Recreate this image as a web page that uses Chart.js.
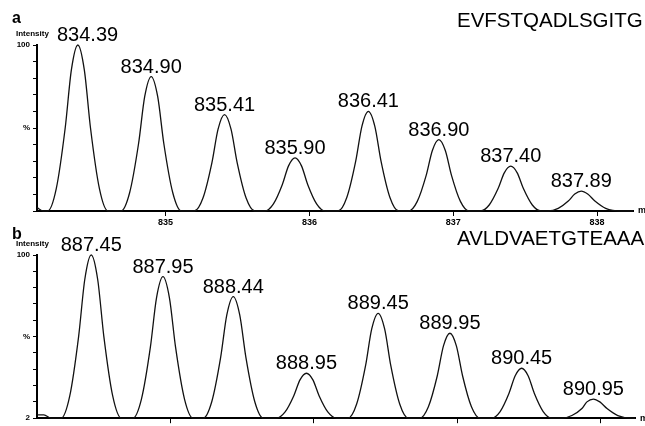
<!DOCTYPE html>
<html>
<head>
<meta charset="utf-8">
<script src="https://cdn.jsdelivr.net/npm/chart.js@4/dist/chart.umd.min.js"></script>
<style>
  html, body { margin: 0; padding: 0; background: #fff; overflow: hidden; }
  #wrap { position: relative; width: 645px; height: 426px; }
  canvas { position: absolute; left: 0; }
  #chartA { top: 0; }
  #chartB { top: 213px; }
</style>
</head>
<body>
<div id="wrap">
  <canvas id="chartA" width="645" height="232"></canvas>
  <canvas id="chartB" width="645" height="213"></canvas>
</div>
<script>
// panel a: EVFSTQADLSGITG isotope envelope
const seqA = 'EVFSTQADLSGITG';
const peakLabelsA = ['834.39', '834.90', '835.41', '835.90', '836.41', '836.90', '837.40', '837.89'];
const xTicksA = [835, 836, 837, 838];
const mzA = [
  834.106, 834.15,
  834.18, 834.24, 834.302, 834.345, 834.39, 834.435, 834.478, 834.54, 834.60,
  834.69, 834.75, 834.812, 834.855, 834.90, 834.945, 834.988, 835.05, 835.11,
  835.20, 835.26, 835.322, 835.365, 835.41, 835.455, 835.498, 835.56, 835.62,
  835.69, 835.75, 835.812, 835.855, 835.90, 835.945, 835.988, 836.05, 836.11,
  836.20, 836.26, 836.322, 836.365, 836.41, 836.455, 836.498, 836.56, 836.62,
  836.69, 836.75, 836.812, 836.855, 836.90, 836.945, 836.988, 837.05, 837.11,
  837.19, 837.25, 837.312, 837.355, 837.40, 837.445, 837.488, 837.55, 837.61,
  837.66, 837.73, 837.80, 837.845, 837.89, 837.935, 837.985, 838.06, 838.17,
  838.25
];
const intA = [
  2, 0,
  0, 13.5, 50, 85, 100, 85, 50, 13.5, 0,
  0, 11, 40.5, 69, 81, 69, 40.5, 11, 0,
  0, 7.8, 29, 49.3, 58, 49.3, 29, 7.8, 0,
  0, 4.3, 16, 27.2, 32, 27.2, 16, 4.3, 0,
  0, 8.1, 30, 51, 60, 51, 30, 8.1, 0,
  0, 5.8, 21.5, 36.5, 43, 36.5, 21.5, 5.8, 0,
  0, 3.6, 13.5, 23, 27, 23, 13.5, 3.6, 0,
  0, 1.6, 6, 10.2, 12, 10.2, 6, 1.6, 0,
  0
];

// panel b: AVLDVAETGTEAAA isotope envelope
const seqB = 'AVLDVAETGTEAAA';
const peakLabelsB = ['887.45', '887.95', '888.44', '888.95', '889.45', '889.95', '890.45', '890.95'];
const xTicksB = [888, 889, 890, 891];
const yTicksB = [2, 11.8, 21.6, 31.4, 41.2, 51, 60.8, 70.6, 80.4, 90.2, 100];
const mzB = [
  887.075, 887.12, 887.17,
  887.24, 887.30, 887.362, 887.405, 887.45, 887.495, 887.538, 887.60, 887.66,
  887.74, 887.80, 887.862, 887.905, 887.95, 887.995, 888.038, 888.10, 888.16,
  888.23, 888.29, 888.352, 888.395, 888.44, 888.485, 888.528, 888.59, 888.65,
  888.74, 888.80, 888.862, 888.905, 888.95, 888.995, 889.038, 889.10, 889.16,
  889.24, 889.30, 889.362, 889.405, 889.45, 889.495, 889.538, 889.60, 889.66,
  889.74, 889.80, 889.862, 889.905, 889.95, 889.995, 890.038, 890.10, 890.16,
  890.24, 890.30, 890.362, 890.405, 890.45, 890.495, 890.538, 890.60, 890.66,
  890.73, 890.80, 890.87, 890.905, 890.95, 890.995, 891.045, 891.12, 891.22,
  891.24
];
const intB = [
  4, 4, 2,
  2, 15.2, 51, 85.3, 100, 85.3, 51, 15.2, 2,
  2, 13.5, 44.5, 74.3, 87, 74.3, 44.5, 13.5, 2,
  2, 11.9, 38.5, 64, 75, 64, 38.5, 11.9, 2,
  2, 5.6, 15.5, 25, 29, 25, 15.5, 5.6, 2,
  2, 10.5, 33.5, 55.6, 65, 55.6, 33.5, 10.5, 2,
  2, 8.9, 27.5, 45.4, 53, 45.4, 27.5, 8.9, 2,
  2, 6, 17, 27.5, 32, 27.5, 17, 6, 2,
  2, 3.6, 7.8, 11.8, 13.5, 11.8, 7.8, 3.6, 2,
  2
];

const FONT = '"Liberation Sans", Arial, sans-serif';

// peak labels, panel letter, sequence, axis captions
const spectrumText = {
  id: 'spectrumText',
  afterDraw(chart, args, opts) {
    const { ctx, chartArea, scales: { x, y } } = chart;
    ctx.save();
    ctx.fillStyle = '#000';

    ctx.font = `20px ${FONT}`;
    ctx.textAlign = 'center';
    ctx.textBaseline = 'alphabetic';
    opts.peaks.forEach((lbl) => {
      const i = opts.mz.indexOf(parseFloat(lbl));
      if (i < 0) return;
      const w = ctx.measureText(lbl).width;
      const px = Math.max(x.getPixelForValue(opts.mz[i]), 57 + w / 2);
      ctx.fillText(lbl, px, y.getPixelForValue(opts.int[i]) - 4);
    });

    ctx.textAlign = 'left';
    ctx.font = `20.5px ${FONT}`;
    ctx.fillText(opts.seq, 457, opts.seqY);

    ctx.font = `bold 16px ${FONT}`;
    ctx.fillText(opts.letter, 12, opts.letterY);

    ctx.font = `bold 8px ${FONT}`;
    ctx.fillText('Intensity', 16, chartArea.top - 9);

    ctx.textBaseline = 'middle';
    ctx.font = `bold 9px ${FONT}`;
    ctx.fillText('m/z', chartArea.right + 5, chartArea.bottom);
    ctx.restore();
  },
};

function makeChart(id, cfg) {
  return new Chart(document.getElementById(id), {
    type: 'line',
    data: {
      datasets: [{
        data: cfg.mz.map((v, i) => ({ x: v, y: cfg.int[i] })),
        borderColor: '#111',
        borderWidth: 1.3,
        pointRadius: 0,
        fill: false,
        tension: 0.4,
        cubicInterpolationMode: 'monotone',
        clip: 6,
      }],
    },
    options: {
      responsive: false,
      animation: false,
      layout: { padding: cfg.padding },
      plugins: {
        legend: { display: false },
        tooltip: { enabled: false },
        spectrumText: {
          peaks: cfg.peaks, mz: cfg.mz, int: cfg.int,
          seq: cfg.seq, seqY: cfg.seqY, letter: cfg.letter, letterY: cfg.letterY,
        },
      },
      scales: {
        x: {
          type: 'linear',
          min: cfg.xMin,
          max: cfg.xMax,
          afterBuildTicks: (axis) => { axis.ticks = cfg.xTicks.map((v) => ({ value: v })); },
          afterFit: (axis) => { axis.height = cfg.xHeight; },
          border: { display: true, color: '#000', width: 2 },
          grid: { drawOnChartArea: false, drawTicks: true, tickLength: 5, color: '#000', lineWidth: 1 },
          ticks: {
            display: cfg.showX,
            padding: 1,
            maxRotation: 0,
            color: '#000',
            font: { family: FONT, size: 9, weight: 'bold' },
            callback: (v) => String(v),
          },
        },
        y: {
          min: cfg.yMin,
          max: 100,
          afterBuildTicks: (axis) => { axis.ticks = cfg.yTicks.map((v) => ({ value: v })); },
          afterFit: (axis) => { axis.width = 37; },
          border: { display: true, color: '#000', width: 2 },
          grid: { drawOnChartArea: false, drawTicks: true, tickLength: 4, color: '#000', lineWidth: 1 },
          ticks: {
            padding: 3,
            color: '#000',
            font: { family: FONT, size: 8, weight: 'bold' },
            callback: (v) => (v === 100 ? '100' : v === cfg.pctTick ? '%' : v === cfg.yMin && cfg.yMin > 0 ? String(v) : ''),
          },
        },
      },
    },
    plugins: [spectrumText],
  });
}

makeChart('chartA', {
  mz: mzA, int: intA, peaks: peakLabelsA, seq: seqA, seqY: 27, letter: 'a', letterY: 23,
  xMin: 834.106, xMax: 838.25, xTicks: xTicksA, xHeight: 21, showX: true,
  yMin: 0, yTicks: [0, 10, 20, 30, 40, 50, 60, 70, 80, 90, 100], pctTick: 50,
  padding: { top: 45, right: 12, left: 0, bottom: 0 },
});

makeChart('chartB', {
  mz: mzB, int: intB, peaks: peakLabelsB, seq: seqB, seqY: 32, letter: 'b', letterY: 26,
  xMin: 887.072, xMax: 891.24, xTicks: xTicksB, xHeight: 4, showX: false,
  yMin: 2, yTicks: yTicksB, pctTick: 51,
  padding: { top: 42, right: 10, left: 0, bottom: 0 },
});
</script>
</body>
</html>
